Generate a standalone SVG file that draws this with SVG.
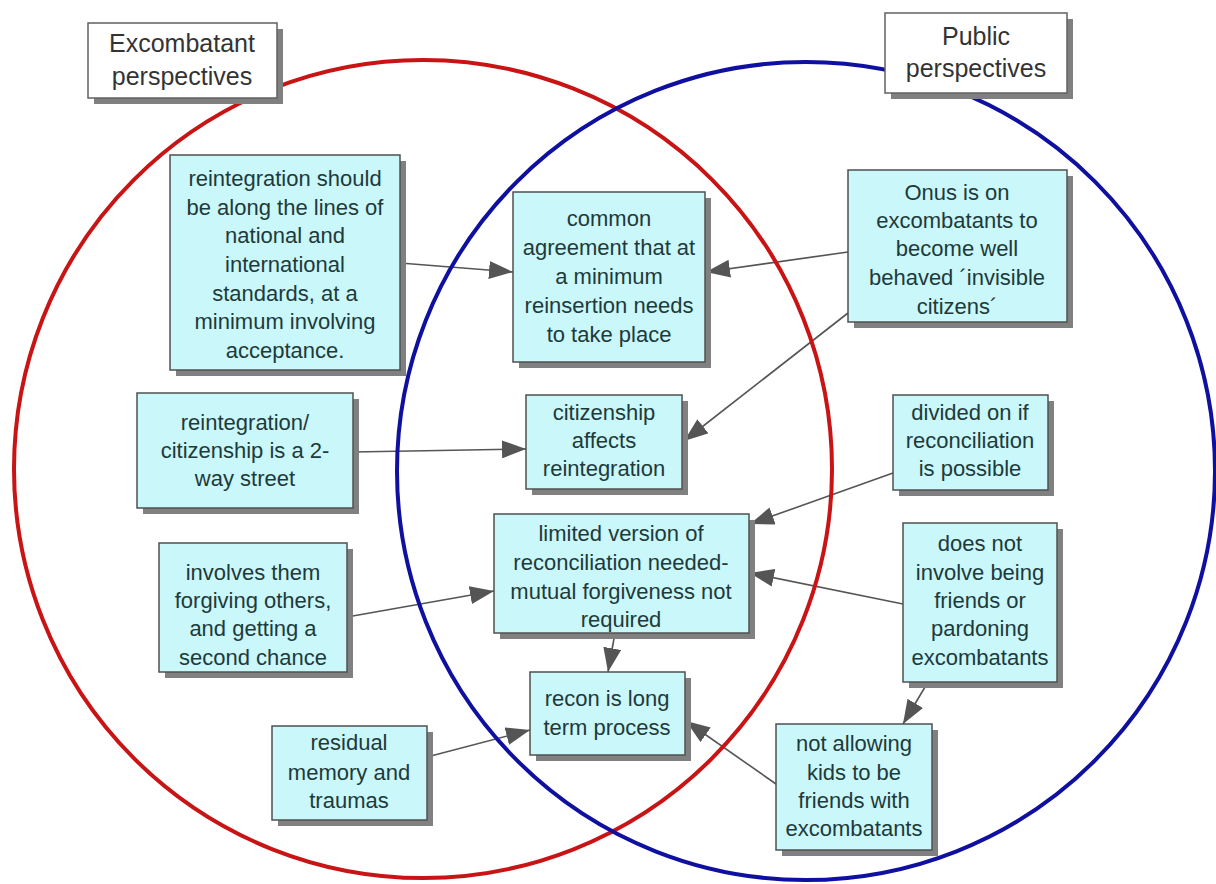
<svg xmlns="http://www.w3.org/2000/svg" width="1216" height="884" viewBox="0 0 1216 884">
<defs>
<style>
.sh{fill:#808080}
.bx{fill:#c9f7fa;stroke:#505050;stroke-width:1.5}
.tb{fill:#ffffff;stroke:#606060;stroke-width:1.5}
.t{font-family:"Liberation Sans",Arial,sans-serif;font-size:22px;fill:#1e3a3a;text-anchor:middle}
.tt{font-family:"Liberation Sans",Arial,sans-serif;font-size:25px;fill:#333333;text-anchor:middle}
.c{stroke:#555555;stroke-width:1.6;fill:none;marker-end:url(#ah)}
</style>
<marker id="ah" markerUnits="userSpaceOnUse" markerWidth="24" markerHeight="18" refX="24" refY="9" orient="auto" viewBox="0 0 24 18">
<path d="M0,0 L24,9 L0,18 z" fill="#555555"/>
</marker>
</defs>
<rect width="1216" height="884" fill="#ffffff"/>
<g id="connectors">
<path class="c" d="M400,263 L513,272"/>
<path class="c" d="M848,252 L706,272"/>
<path class="c" d="M848,313 L684,441"/>
<path class="c" d="M353,452 L526,449"/>
<path class="c" d="M893,473 L750,524"/>
<path class="c" d="M903,604 L750,573"/>
<path class="c" d="M347,617 L494,591"/>
<path class="c" d="M615,633 L608,672"/>
<path class="c" d="M928,682 L903,724"/>
<path class="c" d="M427,757 L530,730"/>
<path class="c" d="M776,784 L686,721"/>
</g>
<g id="circles">
<circle cx="423" cy="469" r="409" fill="none" stroke="#c81414" stroke-width="4"/>
<circle cx="806" cy="471" r="409" fill="none" stroke="#1010a0" stroke-width="4"/>
</g>
<g id="title-excombatant">
<rect class="sh" x="94" y="29" width="189" height="75"/>
<rect class="tb" x="88" y="23" width="189" height="75"/>
<text class="tt"><tspan x="182" y="52">Excombatant</tspan><tspan x="182" y="85">perspectives</tspan></text>
</g>
<g id="title-public">
<rect class="sh" x="891" y="19" width="182" height="80"/>
<rect class="tb" x="885" y="13" width="182" height="80"/>
<text class="tt"><tspan x="976" y="45">Public</tspan><tspan x="976" y="77">perspectives</tspan></text>
</g>
<g id="n1">
<rect class="sh" x="176" y="161" width="230" height="215"/>
<rect class="bx" x="170" y="155" width="230" height="215"/>
<text class="t"><tspan x="285" y="186">reintegration should</tspan><tspan x="285" y="215">be along the lines of</tspan><tspan x="285" y="243">national and</tspan><tspan x="285" y="272">international</tspan><tspan x="285" y="301">standards, at a</tspan><tspan x="285" y="329">minimum involving</tspan><tspan x="285" y="358">acceptance.</tspan></text>
</g>
<g id="n2">
<rect class="sh" x="519" y="198" width="192" height="170"/>
<rect class="bx" x="513" y="192" width="192" height="170"/>
<text class="t"><tspan x="609" y="226">common</tspan><tspan x="609" y="255">agreement that at</tspan><tspan x="609" y="284">a minimum</tspan><tspan x="609" y="313">reinsertion needs</tspan><tspan x="609" y="342">to take place</tspan></text>
</g>
<g id="n3">
<rect class="sh" x="854" y="176" width="219" height="152"/>
<rect class="bx" x="848" y="170" width="219" height="152"/>
<text class="t"><tspan x="957" y="200">Onus is on</tspan><tspan x="957" y="228">excombatants to</tspan><tspan x="957" y="256">become well</tspan><tspan x="957" y="285">behaved ´invisible</tspan><tspan x="957" y="314">citizens´</tspan></text>
</g>
<g id="n4">
<rect class="sh" x="143" y="399" width="216" height="115"/>
<rect class="bx" x="137" y="393" width="216" height="115"/>
<text class="t"><tspan x="245" y="430">reintegration/</tspan><tspan x="245" y="458">citizenship is a 2-</tspan><tspan x="245" y="486">way street</tspan></text>
</g>
<g id="n5">
<rect class="sh" x="532" y="401" width="156" height="94"/>
<rect class="bx" x="526" y="395" width="156" height="94"/>
<text class="t"><tspan x="604" y="420">citizenship</tspan><tspan x="604" y="448">affects</tspan><tspan x="604" y="476">reintegration</tspan></text>
</g>
<g id="n6">
<rect class="sh" x="899" y="401" width="155" height="95"/>
<rect class="bx" x="893" y="395" width="155" height="95"/>
<text class="t"><tspan x="970" y="420">divided on if</tspan><tspan x="970" y="448">reconciliation</tspan><tspan x="970" y="476">is possible</tspan></text>
</g>
<g id="n7">
<rect class="sh" x="500" y="520" width="255" height="119"/>
<rect class="bx" x="494" y="514" width="255" height="119"/>
<text class="t"><tspan x="621" y="541">limited version of</tspan><tspan x="621" y="570">reconciliation needed-</tspan><tspan x="621" y="599">mutual forgiveness not</tspan><tspan x="621" y="627">required</tspan></text>
</g>
<g id="n8">
<rect class="sh" x="165" y="549" width="188" height="129"/>
<rect class="bx" x="159" y="543" width="188" height="129"/>
<text class="t"><tspan x="253" y="580">involves them</tspan><tspan x="253" y="608">forgiving others,</tspan><tspan x="253" y="636">and getting a</tspan><tspan x="253" y="665">second chance</tspan></text>
</g>
<g id="n9">
<rect class="sh" x="909" y="529" width="154" height="159"/>
<rect class="bx" x="903" y="523" width="154" height="159"/>
<text class="t"><tspan x="980" y="551">does not</tspan><tspan x="980" y="580">involve being</tspan><tspan x="980" y="608">friends or</tspan><tspan x="980" y="636">pardoning</tspan><tspan x="980" y="665">excombatants</tspan></text>
</g>
<g id="n10">
<rect class="sh" x="536" y="678" width="155" height="83"/>
<rect class="bx" x="530" y="672" width="155" height="83"/>
<text class="t"><tspan x="607" y="706">recon is long</tspan><tspan x="607" y="735">term process</tspan></text>
</g>
<g id="n11">
<rect class="sh" x="278" y="732" width="155" height="94"/>
<rect class="bx" x="272" y="726" width="155" height="94"/>
<text class="t"><tspan x="349" y="750">residual</tspan><tspan x="349" y="780">memory and</tspan><tspan x="349" y="808">traumas</tspan></text>
</g>
<g id="n12">
<rect class="sh" x="782" y="730" width="156" height="126"/>
<rect class="bx" x="776" y="724" width="156" height="126"/>
<text class="t"><tspan x="854" y="751">not allowing</tspan><tspan x="854" y="780">kids to be</tspan><tspan x="854" y="808">friends with</tspan><tspan x="854" y="836">excombatants</tspan></text>
</g>
</svg>
